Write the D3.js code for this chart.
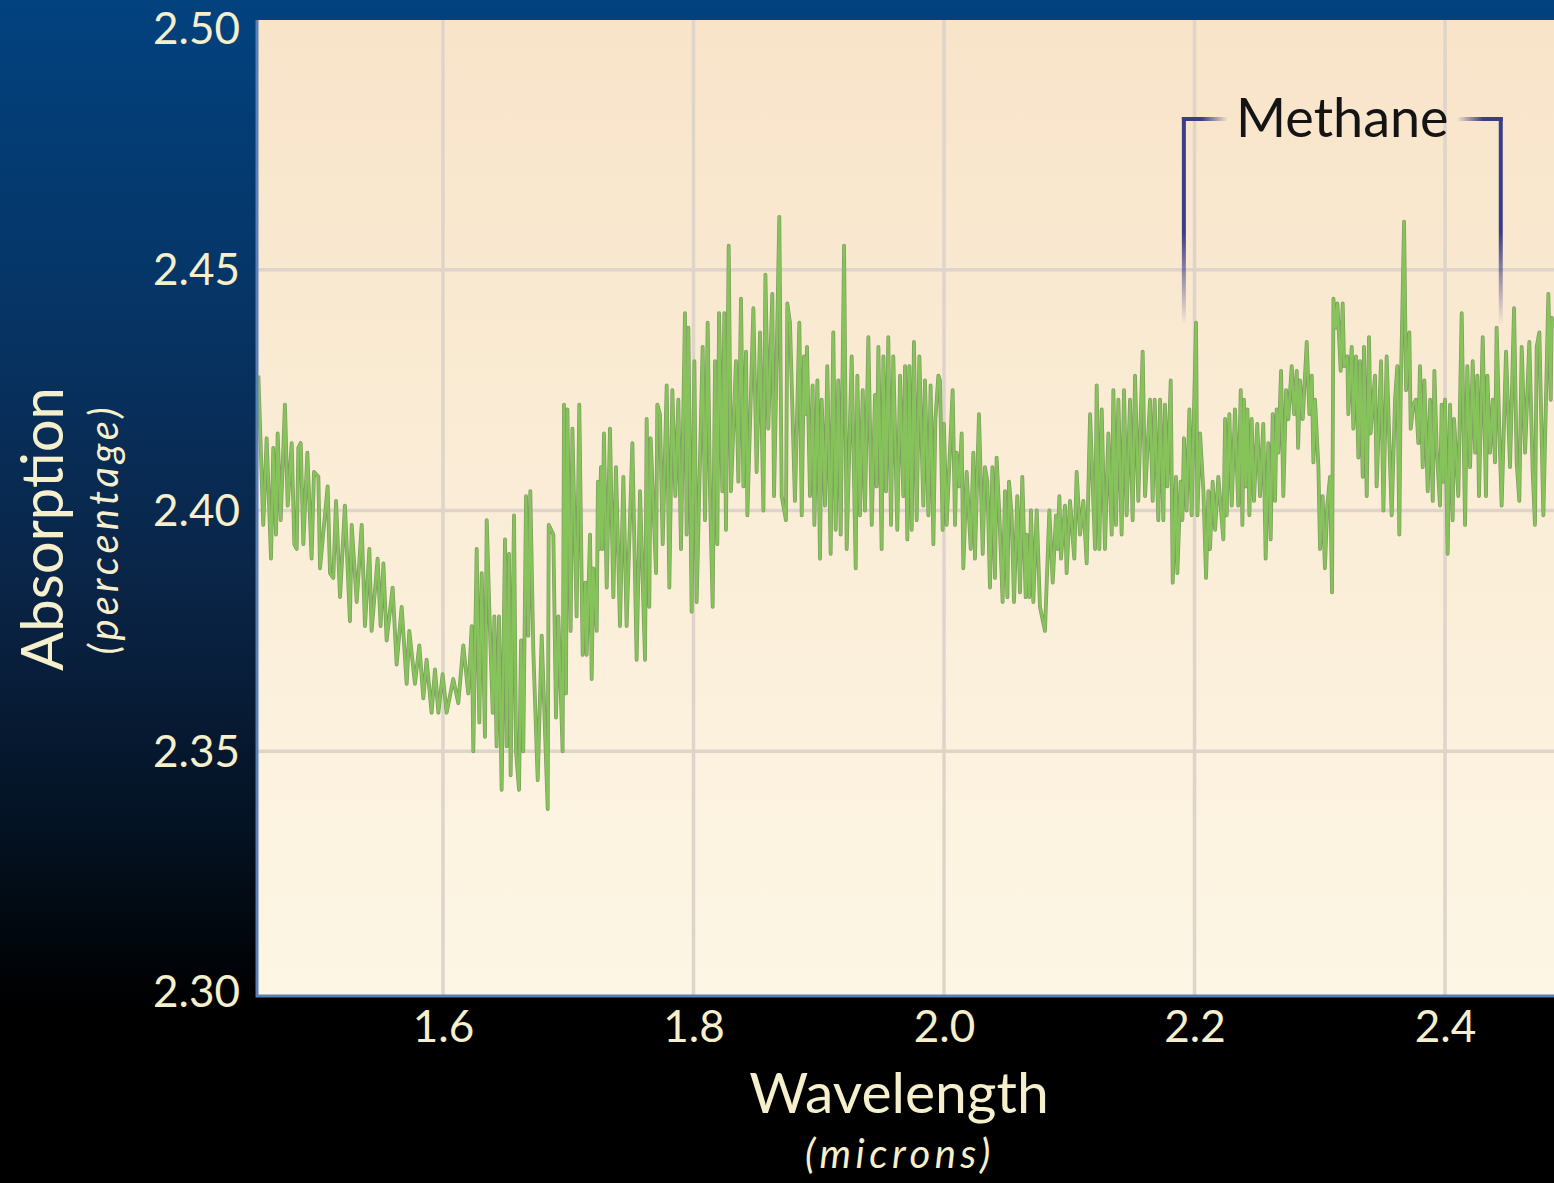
<!doctype html>
<html>

<head>
  <meta charset="UTF-8">
  <title>Absorption spectrum</title>
  <script src="https://d3js.org/d3.v7.min.js"></script>
  <style>
    body { margin: 0; background: #000; }
    svg { display: block; }
  </style>
</head>

<body>
  <script>
    var W = 1554, H = 1183;
    var pLeft = 258, pRight = 1554, pTop = 20, pBottom = 995;

    var xTicks = [1.6, 1.8, 2.0, 2.2, 2.4];
    var yTicks = [2.30, 2.35, 2.40, 2.45, 2.50];
    var xDomain = [1.4523, 2.487];
    var yDomain = [2.30, 2.50];
    var bandLabel = "Methane";
    var bandRange = [2.1915, 2.4445]; // wavelength span of the bracket

    // [wavelength (microns), absorption (%)]
    var spectrumA = [
      [1.4526,2.428],[1.4565,2.397],[1.4592,2.415],[1.4627,2.390],[1.4645,2.413],[1.4667,2.395],[1.4680,2.416],[1.4704,2.398],
      [1.4738,2.422],[1.4760,2.401],[1.4792,2.414],[1.4813,2.393],[1.4832,2.392],[1.4845,2.413],[1.4864,2.414],[1.4885,2.393],
      [1.4917,2.412],[1.4951,2.390],[1.4970,2.408],[1.5005,2.407],[1.5018,2.388],[1.5079,2.405],[1.5098,2.387],[1.5124,2.386],
      [1.5146,2.402],[1.5178,2.382],[1.5217,2.401],[1.5257,2.377],[1.5271,2.397],[1.5311,2.381],[1.5351,2.397],[1.5377,2.376],
      [1.5412,2.392],[1.5430,2.375],[1.5478,2.390],[1.5502,2.376],[1.5524,2.389],[1.5550,2.373],[1.5598,2.384],[1.5630,2.368],
      [1.5670,2.380],[1.5710,2.364],[1.5731,2.375],[1.5776,2.364],[1.5811,2.372],[1.5843,2.361],[1.5869,2.369],[1.5909,2.358],
      [1.5936,2.367],[1.5963,2.358],[1.5997,2.366],[1.6029,2.358],[1.6082,2.365],[1.6122,2.360],[1.6162,2.372],[1.6202,2.362]
    ];
    var spectrumB = [
      [1.6229,2.376],[1.6242,2.350],[1.6269,2.392],[1.6290,2.356],[1.6309,2.387],[1.6335,2.353],[1.6349,2.398],[1.6375,2.375],
      [1.6397,2.358],[1.6410,2.378],[1.6428,2.351],[1.6447,2.378],[1.6468,2.342],[1.6495,2.394],[1.6508,2.351],[1.6527,2.391],
      [1.6540,2.345],[1.6567,2.399],[1.6583,2.350],[1.6607,2.342],[1.6623,2.373],[1.6641,2.350],[1.6663,2.403],[1.6681,2.374],
      [1.6697,2.404],[1.6721,2.371],[1.6756,2.344],[1.6788,2.374],[1.6836,2.338],[1.6844,2.397],[1.6881,2.395],[1.6902,2.357],
      [1.6921,2.378],[1.6955,2.350],[1.6966,2.422],[1.6982,2.362],[1.6993,2.421],[1.7019,2.375],[1.7033,2.417],[1.7067,2.378],
      [1.7088,2.422],[1.7115,2.370],[1.7136,2.385],[1.7147,2.370],[1.7174,2.395],[1.7187,2.365],[1.7200,2.388],[1.7227,2.375],
      [1.7237,2.406],[1.7248,2.392],[1.7261,2.409],[1.7272,2.392],[1.7285,2.416],[1.7307,2.384],[1.7333,2.417],[1.7360,2.382],
      [1.7381,2.409],[1.7413,2.376],[1.7440,2.407],[1.7466,2.376],[1.7512,2.414],[1.7546,2.369],[1.7573,2.404],[1.7613,2.369],
      [1.7626,2.419],[1.7647,2.380],[1.7658,2.415],[1.7701,2.387],[1.7711,2.422],[1.7732,2.420],[1.7754,2.393],[1.7786,2.426],
      [1.7807,2.384],[1.7831,2.425],[1.7855,2.403],[1.7879,2.423]
    ];
    var spectrumC = [
      [1.7900,2.392],[1.7932,2.441],[1.7945,2.395],[1.7959,2.438],[1.7985,2.379],[1.8007,2.431],[1.8025,2.381],[1.8073,2.434],
      [1.8092,2.398],[1.8113,2.439],[1.8132,2.403],[1.8153,2.380],[1.8172,2.431],[1.8190,2.393],[1.8204,2.441],[1.8230,2.404],
      [1.8246,2.441],[1.8259,2.396],[1.8281,2.455],[1.8299,2.404],[1.8339,2.431],[1.8358,2.406],[1.8379,2.444],[1.8398,2.405],
      [1.8419,2.433],[1.8430,2.399],[1.8478,2.442],[1.8504,2.408],[1.8531,2.437],[1.8558,2.400],[1.8574,2.449],[1.8597,2.417],
      [1.8629,2.445],[1.8643,2.403],[1.8685,2.461],[1.8704,2.403],[1.8738,2.398],[1.8749,2.443],[1.8770,2.439],[1.8810,2.402],
      [1.8845,2.439],[1.8864,2.399],[1.8882,2.432],[1.8893,2.420],[1.8906,2.434],[1.8930,2.403],[1.8951,2.426],[1.8965,2.397],
      [1.8989,2.427],[1.9010,2.390],[1.9023,2.423],[1.9050,2.401],[1.9068,2.430],[1.9095,2.391],[1.9116,2.437],[1.9135,2.396],
      [1.9156,2.427],[1.9175,2.395],[1.9202,2.455],[1.9223,2.392],[1.9263,2.432],[1.9295,2.388],[1.9308,2.428],[1.9329,2.399],
      [1.9351,2.425],[1.9369,2.400],[1.9396,2.436],[1.9423,2.397],[1.9449,2.424],[1.9462,2.405],[1.9476,2.434],[1.9502,2.392],
      [1.9516,2.432],[1.9537,2.404],[1.9555,2.436],[1.9577,2.397],[1.9595,2.432],[1.9627,2.396],[1.9649,2.428],[1.9675,2.403],
      [1.9689,2.430],[1.9707,2.394],[1.9723,2.430],[1.9742,2.396],[1.9760,2.435],[1.9782,2.398],[1.9803,2.432],[1.9835,2.401],
      [1.9848,2.427],[1.9875,2.399],[1.9893,2.426],[1.9915,2.393],[1.9931,2.419],[1.9955,2.428]
    ];
    var spectrumD = [
      [1.9968,2.427],[1.9989,2.396],[1.9999,2.418],[2.0021,2.397],[2.0069,2.425],[2.0088,2.397],[2.0101,2.412],[2.0122,2.405],
      [2.0141,2.416],[2.0154,2.388],[2.0181,2.408],[2.0213,2.392],[2.0234,2.412],[2.0247,2.390],[2.0279,2.420],[2.0309,2.391],
      [2.0327,2.409],[2.0346,2.406],[2.0367,2.384],[2.0386,2.409],[2.0407,2.386],[2.0420,2.411],[2.0442,2.399],[2.0468,2.381],
      [2.0487,2.404],[2.0506,2.382],[2.0519,2.406],[2.0540,2.399],[2.0559,2.381],[2.0585,2.403],[2.0607,2.383],[2.0625,2.407],
      [2.0652,2.382],[2.0660,2.395],[2.0681,2.382],[2.0694,2.400],[2.0713,2.381],[2.0740,2.400],[2.0766,2.380],[2.0806,2.375],
      [2.0841,2.400],[2.0868,2.385],[2.0894,2.399],[2.0907,2.392],[2.0921,2.403],[2.0934,2.390],[2.0966,2.401],[2.0979,2.387],
      [2.1006,2.402],[2.1040,2.390],[2.1059,2.408],[2.1086,2.395],[2.1112,2.402],[2.1139,2.389],[2.1166,2.420],[2.1206,2.392],
      [2.1219,2.426],[2.1240,2.392],[2.1259,2.421],[2.1285,2.392],[2.1312,2.416],[2.1339,2.395],[2.1352,2.425],[2.1373,2.397],
      [2.1392,2.423],[2.1418,2.395],[2.1437,2.425],[2.1458,2.399],[2.1485,2.423],[2.1506,2.398],[2.1525,2.428],[2.1551,2.402],
      [2.1586,2.433],[2.1605,2.403],[2.1645,2.423],[2.1666,2.402],[2.1682,2.423],[2.1711,2.398],[2.1725,2.423],[2.1751,2.398],
      [2.1764,2.422],[2.1783,2.405],[2.1810,2.427],[2.1826,2.385],[2.1852,2.407],[2.1863,2.387],[2.1889,2.406],[2.1903,2.398],
      [2.1916,2.415],[2.1937,2.400],[2.1959,2.421],[2.1977,2.399]
    ];
    var spectrumE = [
      [2.2012,2.439],[2.2023,2.399],[2.2044,2.416],[2.2071,2.404],[2.2092,2.386],[2.2111,2.404],[2.2124,2.392],[2.2145,2.406],
      [2.2164,2.396],[2.2190,2.407],[2.2230,2.394],[2.2244,2.419],[2.2257,2.399],[2.2278,2.420],[2.2297,2.401],[2.2323,2.421],
      [2.2349,2.401],[2.2369,2.425],[2.2382,2.397],[2.2395,2.423],[2.2409,2.405],[2.2422,2.421],[2.2438,2.399],[2.2456,2.419],
      [2.2475,2.402],[2.2501,2.418],[2.2523,2.403],[2.2549,2.418],[2.2568,2.390],[2.2589,2.414],[2.2608,2.394],[2.2624,2.420],
      [2.2643,2.402],[2.2656,2.421],[2.2669,2.412],[2.2691,2.429],[2.2709,2.403],[2.2731,2.425],[2.2749,2.419],[2.2776,2.430],
      [2.2795,2.420],[2.2816,2.429],[2.2827,2.413],[2.2842,2.427],[2.2864,2.419],[2.2896,2.435],[2.2917,2.420],[2.2936,2.428],
      [2.2949,2.410],[2.2962,2.423],[2.2989,2.409],[2.3002,2.392],[2.3023,2.403],[2.3041,2.388],[2.3060,2.401],[2.3082,2.407],
      [2.3098,2.383],[2.3109,2.444],[2.3128,2.438],[2.3141,2.443],[2.3167,2.429],[2.3183,2.443],[2.3194,2.430],[2.3220,2.432],
      [2.3228,2.420],[2.3255,2.434],[2.3268,2.417],[2.3289,2.432],[2.3308,2.411],[2.3321,2.431],[2.3343,2.407],[2.3353,2.434],
      [2.3375,2.403],[2.3393,2.436],[2.3406,2.416],[2.3441,2.428],[2.3454,2.405],[2.3489,2.431],[2.3508,2.400],[2.3534,2.432]
    ];
    var spectrumF = [
      [2.3574,2.399],[2.3601,2.423],[2.3619,2.430],[2.3635,2.395],[2.3646,2.424],[2.3673,2.460],[2.3689,2.425],[2.3715,2.437],
      [2.3726,2.417],[2.3747,2.422],[2.3768,2.423],[2.3787,2.414],[2.3800,2.430],[2.3822,2.409],[2.3835,2.427],[2.3862,2.404],
      [2.3881,2.423],[2.3902,2.402],[2.3915,2.429],[2.3933,2.413],[2.3960,2.401],[2.3973,2.422],[2.3987,2.406],[2.4000,2.423],
      [2.4021,2.391],[2.4040,2.422],[2.4061,2.398],[2.4072,2.419],[2.4106,2.403],[2.4133,2.441],[2.4160,2.397],[2.4178,2.430],
      [2.4200,2.409],[2.4221,2.431],[2.4240,2.412],[2.4258,2.428],[2.4271,2.403],[2.4301,2.436],[2.4327,2.403],[2.4338,2.428],
      [2.4359,2.412],[2.4381,2.423],[2.4399,2.410],[2.4412,2.438],[2.4434,2.416],[2.4452,2.401],[2.4487,2.433],[2.4519,2.409],
      [2.4551,2.442],[2.4572,2.410],[2.4593,2.402],[2.4612,2.434],[2.4639,2.412],[2.4673,2.435],[2.4700,2.408],[2.4718,2.397],
      [2.4732,2.434],[2.4753,2.437],[2.4785,2.399],[2.4812,2.430],[2.4825,2.445],[2.4844,2.423],[2.4852,2.440],[2.4870,2.438]
    ];
    var spectrum = spectrumA.concat(spectrumB, spectrumC, spectrumD, spectrumE, spectrumF);

    var cream = "#f6efcc";
    var navy = "#3b3d86";
    var font = "Lato, 'Open Sans', sans-serif";

    var x = d3.scaleLinear().domain(xDomain).range([pLeft, pRight]);
    var y = d3.scaleLinear().domain(yDomain).range([992, 29]);

    var svg = d3.select("body").append("svg")
      .attr("width", W)
      .attr("height", H);

    var defs = svg.append("defs");

    var bg = defs.append("linearGradient").attr("id", "bg")
      .attr("x1", 0).attr("y1", 0).attr("x2", 0).attr("y2", 1);
    bg.append("stop").attr("offset", "0%").attr("stop-color", "#02427f");
    bg.append("stop").attr("offset", "25%").attr("stop-color", "#063566");
    bg.append("stop").attr("offset", "50%").attr("stop-color", "#0a2446");
    bg.append("stop").attr("offset", "70%").attr("stop-color", "#041222");
    bg.append("stop").attr("offset", "85%").attr("stop-color", "#000000");

    var plotBg = defs.append("linearGradient").attr("id", "plotbg")
      .attr("x1", 0).attr("y1", 0).attr("x2", 0).attr("y2", 1);
    plotBg.append("stop").attr("offset", "0%").attr("stop-color", "#f8e4c9");
    plotBg.append("stop").attr("offset", "100%").attr("stop-color", "#fdf6e5");

    defs.append("clipPath").attr("id", "clip")
      .append("rect")
      .attr("x", pLeft).attr("y", pTop)
      .attr("width", pRight - pLeft).attr("height", pBottom - pTop);

    // fading gradients for the bracket
    function fade(id, x1, y1, x2, y2, from) {
      var g = defs.append("linearGradient").attr("id", id)
        .attr("gradientUnits", "userSpaceOnUse")
        .attr("x1", x1).attr("y1", y1).attr("x2", x2).attr("y2", y2);
      g.append("stop").attr("offset", "0%").attr("stop-color", navy).attr("stop-opacity", 1);
      g.append("stop").attr("offset", from).attr("stop-color", navy).attr("stop-opacity", 1);
      g.append("stop").attr("offset", "100%").attr("stop-color", navy).attr("stop-opacity", 0);
    }

    svg.append("rect")
      .attr("width", W).attr("height", H)
      .attr("fill", "url(#bg)");

    svg.append("rect")
      .attr("x", pLeft).attr("y", pTop)
      .attr("width", pRight - pLeft).attr("height", pBottom - pTop)
      .attr("fill", "url(#plotbg)");

    // grid
    svg.append("g").selectAll("line")
      .data(xTicks)
      .enter().append("line")
      .attr("x1", function(d) { return x(d); })
      .attr("x2", function(d) { return x(d); })
      .attr("y1", pTop).attr("y2", pBottom)
      .attr("stroke", "#ded4ca").attr("stroke-width", 3.5);

    svg.append("g").selectAll("line")
      .data(yTicks.slice(1, -1))
      .enter().append("line")
      .attr("x1", pLeft).attr("x2", pRight)
      .attr("y1", function(d) { return y(d); })
      .attr("y2", function(d) { return y(d); })
      .attr("stroke", "#ded4ca").attr("stroke-width", 3.5);

    // spectrum
    var line = d3.line()
      .x(function(d) { return x(d[0]); })
      .y(function(d) { return y(d[1]); });

    var plot = svg.append("g").attr("clip-path", "url(#clip)");
    plot.append("path")
      .datum(spectrum)
      .attr("d", line)
      .attr("fill", "none")
      .attr("stroke", "#7f9b62")
      .attr("stroke-width", 3.8)
      .attr("stroke-linejoin", "round");
    plot.append("path")
      .datum(spectrum)
      .attr("d", line)
      .attr("fill", "none")
      .attr("stroke", "#87c35b")
      .attr("stroke-width", 2.4)
      .attr("stroke-linejoin", "round");

    // frame (left + bottom)
    svg.append("path")
      .attr("d", "M" + (pLeft - 1) + "," + pTop + "V" + (pBottom + 1) + "H" + pRight)
      .attr("fill", "none")
      .attr("stroke", "#5a7fb6")
      .attr("stroke-width", 3);

    // axes
    var yAxis = svg.append("g")
      .attr("transform", "translate(" + (pLeft - 18) + ",0)")
      .call(d3.axisLeft(y).tickValues(yTicks).tickFormat(d3.format(".2f")).tickSize(0).tickPadding(0));
    yAxis.select(".domain").remove();
    yAxis.selectAll("text")
      .attr("fill", cream)
      .style("font-family", font)
      .style("font-size", "44px")
      .attr("dy", "0.34em");

    var xAxis = svg.append("g")
      .attr("transform", "translate(0," + (pBottom + 14) + ")")
      .call(d3.axisBottom(x).tickValues(xTicks).tickFormat(d3.format(".1f")).tickSize(0).tickPadding(0));
    xAxis.select(".domain").remove();
    xAxis.selectAll("text")
      .attr("fill", cream)
      .style("font-family", font)
      .style("font-size", "44px")
      .attr("dy", "0.75em");

    // axis titles
    svg.append("text")
      .attr("x", 899).attr("y", 1113)
      .attr("text-anchor", "middle")
      .attr("fill", cream)
      .style("font-family", font)
      .style("font-size", "57px")
      .text("Wavelength");
    svg.append("text")
      .attr("x", 900).attr("y", 1168)
      .attr("text-anchor", "middle")
      .attr("fill", cream)
      .style("font-family", font)
      .style("font-style", "italic")
      .style("font-size", "40px")
      .style("letter-spacing", "4.5px")
      .text("(microns)");

    svg.append("text")
      .attr("transform", "translate(63,529) rotate(-90)")
      .attr("text-anchor", "middle")
      .attr("fill", cream)
      .style("font-family", font)
      .style("font-size", "58px")
      .text("Absorption");
    svg.append("text")
      .attr("transform", "translate(118,529) rotate(-90)")
      .attr("text-anchor", "middle")
      .attr("fill", cream)
      .style("font-family", font)
      .style("font-style", "italic")
      .style("font-size", "40px")
      .style("letter-spacing", "4px")
      .text("(percentage)");

    // methane bracket
    var bx0 = x(bandRange[0]), bx1 = x(bandRange[1]);
    var by = 119, byEnd = 325;
    fade("fadeL", bx0, by, bx0 + 44, by, "40%");
    fade("fadeR", bx1, by, bx1 - 44, by, "40%");
    fade("fadeV", 0, by, 0, byEnd, "55%");

    svg.append("line")
      .attr("x1", bx0 - 2).attr("x2", bx0 + 44)
      .attr("y1", by).attr("y2", by)
      .attr("stroke", "url(#fadeL)").attr("stroke-width", 4);
    svg.append("line")
      .attr("x1", bx1 + 2).attr("x2", bx1 - 44)
      .attr("y1", by).attr("y2", by)
      .attr("stroke", "url(#fadeR)").attr("stroke-width", 4);
    svg.append("g").selectAll("rect")
      .data([bx0, bx1])
      .enter().append("rect")
      .attr("x", function(d) { return d - 2; })
      .attr("y", by - 2)
      .attr("width", 4)
      .attr("height", byEnd - by)
      .attr("fill", "url(#fadeV)");

    svg.append("text")
      .attr("x", (bx0 + bx1) / 2).attr("y", 137)
      .attr("text-anchor", "middle")
      .attr("fill", "#141414")
      .style("font-family", font)
      .style("font-size", "54px")
      .text(bandLabel);
  </script>
</body>

</html>
